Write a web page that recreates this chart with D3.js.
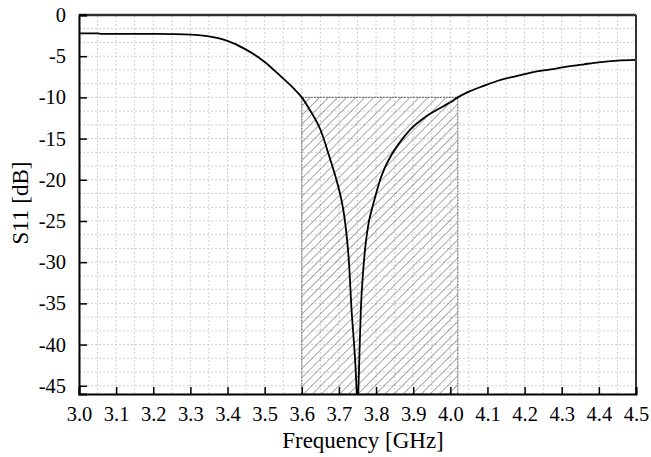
<!DOCTYPE html>
<html><head><meta charset="utf-8">
<script src="https://cdn.jsdelivr.net/npm/d3@7"></script>
<style>body{margin:0;background:#fff}svg{display:block}</style>
</head><body>
<script>
const freq = [3.00,3.05,3.06,3.10,3.20,3.25,3.30,3.35,3.40,3.45,3.50,3.54,3.58,3.60,3.62,3.65,3.675,3.695,3.707,3.715,3.721,3.727,3.734,3.740,3.745,3.748,3.750,3.752,3.755,3.759,3.765,3.770,3.775,3.781,3.788,3.80,3.811,3.825,3.84,3.865,3.89,3.935,3.98,4.00,4.02,4.05,4.09,4.13,4.18,4.22,4.27,4.31,4.36,4.40,4.45,4.50];
const s11  = [-2.22,-2.22,-2.3,-2.3,-2.3,-2.32,-2.38,-2.6,-3.15,-4.2,-5.7,-7.3,-9.0,-10.0,-11.4,-13.9,-17.3,-20.3,-22.5,-24.6,-26.9,-30.0,-35.8,-39.5,-43.0,-46,-48,-46,-41.5,-35.8,-31.2,-28.6,-26.7,-25.0,-23.7,-21.7,-20.0,-18.4,-17.1,-15.4,-14.0,-12.3,-11.1,-10.6,-10.0,-9.3,-8.6,-7.95,-7.4,-6.95,-6.6,-6.3,-5.98,-5.74,-5.54,-5.45];
const xTicks = [3.0,3.1,3.2,3.3,3.4,3.5,3.6,3.7,3.8,3.9,4.0,4.1,4.2,4.3,4.4,4.5];
const yTicks = [0,-5,-10,-15,-20,-25,-30,-35,-40,-45];
const band = [3.6, 4.02];
const bandTop = -10;
const xDomain = [3.0, 4.5];
const yDomain = [-46, 0];

const W = 651, H = 457;
const m = {l:79, r:15, t:15, b:63};
const svg = d3.select("body").append("svg").attr("width", W).attr("height", H);
const x = d3.scaleLinear().domain(xDomain).range([m.l, W - m.r]);
const y = d3.scaleLinear().domain(yDomain).range([H - m.b, m.t]);
const font = "'Liberation Serif','Times New Roman',serif";

const defs = svg.append("defs");
const pat = defs.append("pattern").attr("id","hatch").attr("patternUnits","userSpaceOnUse")
  .attr("width",6.4).attr("height",6.4).attr("patternTransform","rotate(45)");
pat.append("line").attr("x1",0).attr("y1",0).attr("x2",0).attr("y2",6.4)
  .attr("stroke","#555").attr("stroke-width",1);
defs.append("clipPath").attr("id","clip").append("rect")
  .attr("x",x(xDomain[0])).attr("y",y(yDomain[1])).attr("width",x(xDomain[1])-x(xDomain[0])).attr("height",y(yDomain[0])-y(yDomain[1]));

// grid
const xGrid = d3.range(0, 31).map(i => 3.0 + i*0.05);
const yGrid = d3.range(0, 28).map(i => -i*5/3).filter(v => v >= -46);
const g = svg.append("g");
g.selectAll(".vg").data(xGrid).join("line")
  .attr("x1", d=>x(d)).attr("x2", d=>x(d)).attr("y1", y(yDomain[0])).attr("y2", y(yDomain[1]))
  .attr("stroke","#cfcfcf").attr("stroke-width",1).attr("stroke-dasharray","2,2");
g.selectAll(".hg").data(yGrid).join("line")
  .attr("x1", x(xDomain[0])).attr("x2", x(xDomain[1])).attr("y1", d=>y(d)).attr("y2", d=>y(d))
  .attr("stroke","#cfcfcf").attr("stroke-width",1).attr("stroke-dasharray","2,2");

// hatched band
svg.append("rect").attr("x", x(band[0])).attr("y", y(bandTop))
  .attr("width", x(band[1]) - x(band[0])).attr("height", y(yDomain[0]) - y(bandTop))
  .attr("fill","url(#hatch)").attr("stroke","#777").attr("stroke-width",1.2).attr("stroke-dasharray","2,1");

// curve
const line = d3.line().x((d,i)=>x(freq[i])).y(d=>y(d)).curve(d3.curveMonotoneX);
svg.append("path").datum(s11).attr("d", line).attr("fill","none").attr("stroke","#000")
  .attr("stroke-width",1.8).attr("clip-path","url(#clip)");

// frame
svg.append("line").attr("x1",x(xDomain[0])).attr("x2",x(xDomain[1])).attr("y1",y(0)).attr("y2",y(0)).attr("stroke","#333").attr("stroke-width",2.5);
svg.append("line").attr("x1",x(xDomain[1])).attr("x2",x(xDomain[1])).attr("y1",y(0)).attr("y2",y(yDomain[0])).attr("stroke","#333").attr("stroke-width",2);

// axes
const xMinor = d3.range(0, 31).map(i => +(3.0 + i*0.05).toFixed(2));
const xAx = svg.append("g").attr("transform",`translate(0,${y(yDomain[0])})`);
xAx.call(d3.axisBottom(x).tickValues(xMinor).tickSize(-4).tickFormat(""));
xAx.call(d3.axisBottom(x).tickValues(xTicks).tickSize(-7).tickPadding(12).tickFormat(d3.format(".1f")));
const yMinor = d3.range(0, 28).map(i => -i*5/3).filter(v => v >= -46);
const yAx = svg.append("g").attr("transform",`translate(${x(xDomain[0])},0)`);
yAx.call(d3.axisLeft(y).tickValues(yMinor).tickSize(-4).tickFormat(""));
yAx.call(d3.axisLeft(y).tickValues(yTicks).tickSize(-8).tickPadding(13).tickFormat(d=>d3.format("d")(d).replace("−","-")));
svg.selectAll(".domain").attr("stroke","#000").attr("stroke-width",2);
svg.selectAll(".tick line").attr("stroke","#000").attr("stroke-width",1.5);
svg.selectAll(".tick text").attr("font-family",font).attr("font-size",20.5).attr("fill","#000");

svg.append("text").attr("x",363).attr("y",448)
  .attr("text-anchor","middle").attr("font-family",font).attr("font-size",23).text("Frequency [GHz]");
svg.append("text").attr("transform",`translate(28,203) rotate(-90)`)
  .attr("text-anchor","middle").attr("font-family",font).attr("font-size",23).text("S11 [dB]");
</script>
</body></html>
